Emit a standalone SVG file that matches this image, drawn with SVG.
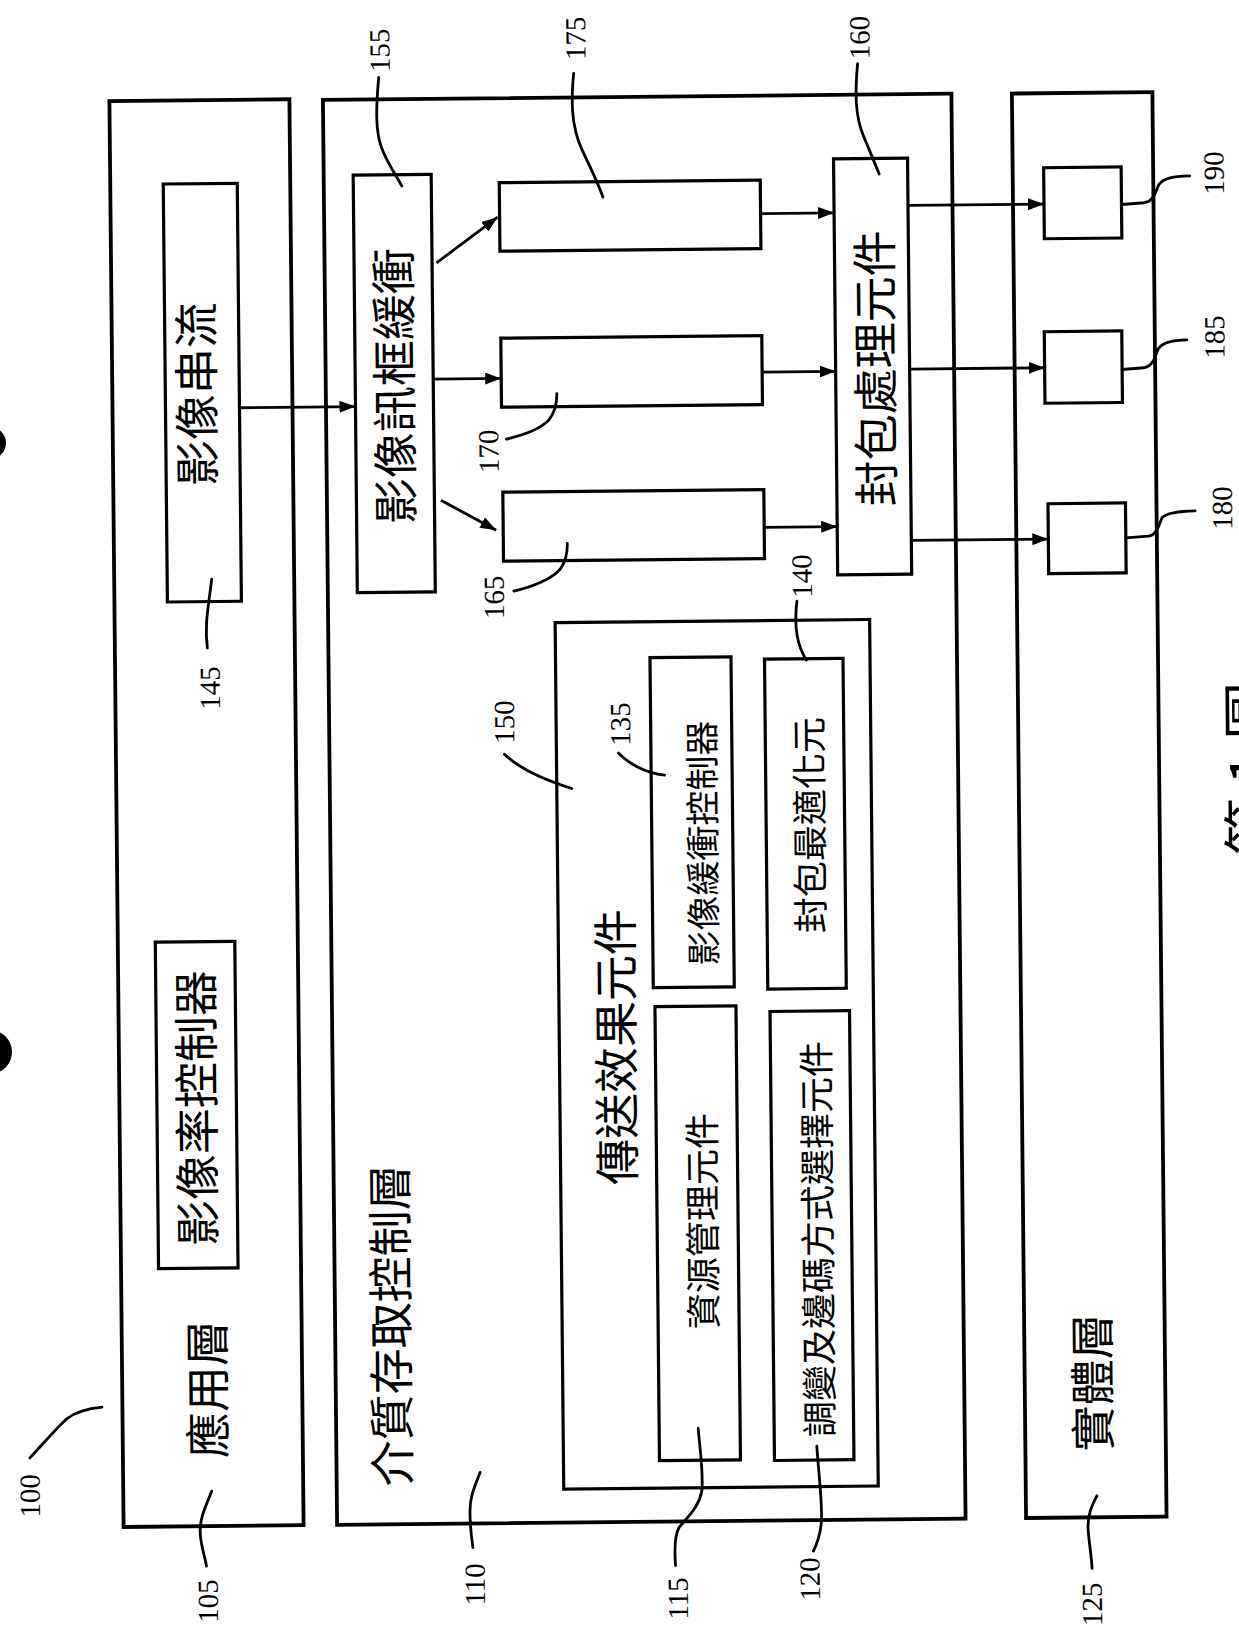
<svg xmlns="http://www.w3.org/2000/svg" width="1239" height="1641" viewBox="0 0 1239 1641">
<style>
.layer{fill:none;stroke:#000;stroke-width:3.8}
.box{fill:none;stroke:#000;stroke-width:3.2}
.conn{fill:none;stroke:#000;stroke-width:2.8}
.lead{fill:none;stroke:#000;stroke-width:2.8;stroke-linecap:round}
.cj{font-family:"Noto Sans CJK TC","Noto Sans CJK SC",sans-serif;font-size:46px;fill:#000}
.cs{font-family:"Noto Sans CJK TC","Noto Sans CJK SC",sans-serif;font-size:36px;fill:#000}
.cap{font-family:"Noto Sans CJK TC","Noto Sans CJK SC",sans-serif;font-size:58px;fill:#000}
.num{font-family:"Liberation Serif","DejaVu Serif",serif;font-size:29px;fill:#000}
</style>
<defs>
<marker id="ah" viewBox="0 0 16 12" refX="16" refY="6" markerWidth="16" markerHeight="12" markerUnits="userSpaceOnUse" orient="auto">
<path d="M0,0 L16,6 L0,12 z" fill="#000"/>
</marker>
</defs>
<rect width="1239" height="1641" fill="#fff"/>
<circle cx="-10" cy="443" r="16" fill="#000"/>
<circle cx="-10" cy="1052" r="22" fill="#000"/>
<g transform="rotate(-0.57 620 810)" text-anchor="middle" dominant-baseline="central">
<g id="n105">
<rect class="layer" x="116.5" y="96" width="180" height="1426"/>
<text class="cj" x="199" y="1385" transform="rotate(-90 199 1385)">應用層</text>
</g>
<g id="n110">
<rect class="layer" x="330" y="97" width="628.5" height="1425"/>
<text class="cj" x="383" y="1323" transform="rotate(-90 383 1323)">介質存取控制層</text>
</g>
<g id="n125">
<rect class="layer" x="1019" y="97.5" width="140.5" height="1424.5"/>
<text class="cj" x="1084" y="1387" transform="rotate(-90 1084 1387)">實體層</text>
</g>
<g id="n145">
<rect class="box" x="169.5" y="179.5" width="74" height="418"/>
<text class="cj" x="198" y="390" transform="rotate(-90 198 390)">影像串流</text>
</g>
<g id="nrate">
<rect class="box" x="154" y="937.5" width="79.5" height="326.5"/>
<text class="cj" x="191" y="1104" transform="rotate(-90 191 1104)">影像率控制器</text>
</g>
<g id="n155">
<rect class="box" x="359.5" y="172.5" width="78" height="417.5"/>
<text class="cj" x="396" y="384" transform="rotate(-90 396 384)">影像訊框緩衝</text>
</g>
<g id="n175"><rect class="box" x="505.5" y="181.5" width="261" height="68.5"/></g>
<g id="n170"><rect class="box" x="505.5" y="337" width="261" height="69"/></g>
<g id="n165"><rect class="box" x="506" y="491" width="261" height="69"/></g>
<g id="n160">
<rect class="box" x="840" y="161" width="74" height="416"/>
<text class="cj" x="877" y="371" transform="rotate(-90 877 371)">封包處理元件</text>
</g>
<g id="n190"><rect class="box" x="1050" y="172" width="77.5" height="71"/></g>
<g id="n185"><rect class="box" x="1049" y="336" width="77.5" height="71.5"/></g>
<g id="n180"><rect class="box" x="1051" y="508" width="77.5" height="70"/></g>
<g id="n150">
<rect class="box" x="557" y="622" width="314.5" height="866.5"/>
<text class="cj" x="611" y="1047" transform="rotate(-90 611 1047)">傳送效果元件</text>
</g>
<g id="n135">
<rect class="box" x="651.5" y="658" width="81" height="330"/>
<text class="cs" x="700" y="844" transform="rotate(-90 700 844)" style="font-size:35px">影像緩衝控制器</text>
</g>
<g id="n140">
<rect class="box" x="766" y="660.5" width="78.5" height="330"/>
<text class="cs" x="807" y="827" transform="rotate(-90 807 827)">封包最適化元</text>
</g>
<g id="n115">
<rect class="box" x="653" y="1007" width="81" height="454"/>
<text class="cs" x="696" y="1222" transform="rotate(-90 696 1222)">資源管理元件</text>
</g>
<g id="n120">
<rect class="box" x="768" y="1013" width="79.5" height="449"/>
<text class="cs" x="811" y="1241" transform="rotate(-90 811 1241)">調變及邊碼方式選擇元件</text>
</g>
<g id="connectors" marker-end="url(#ah)">
<path class="conn" d="M243.5,404 H359.5"/>
<path class="conn" d="M442,261 L503.5,216"/>
<path class="conn" d="M437.5,377.3 H505.5"/>
<path class="conn" d="M444,498.4 L499,529"/>
<path class="conn" d="M766.5,215 H840"/>
<path class="conn" d="M766.5,373.5 H840"/>
<path class="conn" d="M767,528.8 H840"/>
<path class="conn" d="M914,208.3 H1050"/>
<path class="conn" d="M914,372 H1049"/>
<path class="conn" d="M914,543.3 H1051"/>
</g>
<g id="leaders">
<path class="lead" d="M386,75 C383,105 382,128 388,145 C393,160 402,172 408,184"/>
<path class="lead" d="M581,73 C578,100 578,125 588,148 C596,166 604,182 609,197"/>
<path class="lead" d="M865,66 C862,95 862,118 870,138 C876,153 881,165 885.5,176.6"/>
<path class="lead" d="M510,438 C528,434 545,428 553,419 C559,411 561,402 561,393"/>
<path class="lead" d="M516,590 C535,586 555,578 563,568 C568,561 570,552 570,543"/>
<path class="lead" d="M214,575 C211,600 206,620 209,644"/>
<path class="lead" d="M505,753 C515,763 535,776 572,788"/>
<path class="lead" d="M619,753 C628,763 645,773 665,775.5"/>
<path class="lead" d="M799,603 C796,625 797,645 808,662"/>
<path class="lead" d="M1127.5,209.5 L1150,208 C1160,207 1162,196 1165,190 C1170,183 1180,182 1196,181.5"/>
<path class="lead" d="M1126.5,374.5 L1148,373 C1158,372 1160,360 1163,354 C1168,347 1178,346 1191.5,345.6"/>
<path class="lead" d="M1128.5,543 L1151,541.5 C1160,540.5 1162,529 1165,523 C1170,518 1182,517 1198,516.7"/>
<path class="lead" d="M23.5,1452 C35,1440 48,1425 61,1413 C72,1405 85,1403 96,1402"/>
<path class="lead" d="M205,1487 C200,1500 193,1512 193,1527 C193,1540 197,1550 199,1562"/>
<path class="lead" d="M473.5,1471 C468,1485 463,1495 463,1510 C463,1525 464,1535 465.6,1546"/>
<path class="lead" d="M692,1429 C694,1455 697,1475 695,1492 C692,1508 680,1518 672,1528 C667,1536 667,1550 668,1566"/>
<path class="lead" d="M810.5,1448 C812,1475 815,1500 814.5,1520 C814,1535 810,1545 806,1553"/>
<path class="lead" d="M1090,1500.5 C1085,1510 1080,1520 1081,1535 C1082,1550 1084,1560 1084.5,1573"/>
</g>
<g id="labels">
<text class="num" x="387" y="48" transform="rotate(-90 387 48)">155</text>
<text class="num" x="583" y="38" transform="rotate(-90 583 38)">175</text>
<text class="num" x="867" y="40" transform="rotate(-90 867 40)">160</text>
<text class="num" x="492" y="450" transform="rotate(-90 492 450)">170</text>
<text class="num" x="496" y="596" transform="rotate(-90 496 596)">165</text>
<text class="num" x="211" y="684" transform="rotate(-90 211 684)">145</text>
<text class="num" x="505" y="721" transform="rotate(-90 505 721)">150</text>
<text class="num" x="621" y="724" transform="rotate(-90 621 724)">135</text>
<text class="num" x="804" y="578" transform="rotate(-90 804 578)">140</text>
<text class="num" x="1220" y="179" transform="rotate(-90 1220 179)">190</text>
<text class="num" x="1219" y="343" transform="rotate(-90 1219 343)">185</text>
<text class="num" x="1225" y="514" transform="rotate(-90 1225 514)">180</text>
<text class="num" x="23" y="1490" transform="rotate(-90 23 1490)">100</text>
<text class="num" x="200" y="1597" transform="rotate(-90 200 1597)">105</text>
<text class="num" x="467" y="1583" transform="rotate(-90 467 1583)">110</text>
<text class="num" x="670" y="1599" transform="rotate(-90 670 1599)">115</text>
<text class="num" x="802" y="1581" transform="rotate(-90 802 1581)">120</text>
<text class="num" x="1084" y="1609" transform="rotate(-90 1084 1609)">125</text>
<text class="cap" x="1248" y="775" transform="rotate(-90 1248 775)">第 1 圖</text>
</g>
</g>
</svg>
